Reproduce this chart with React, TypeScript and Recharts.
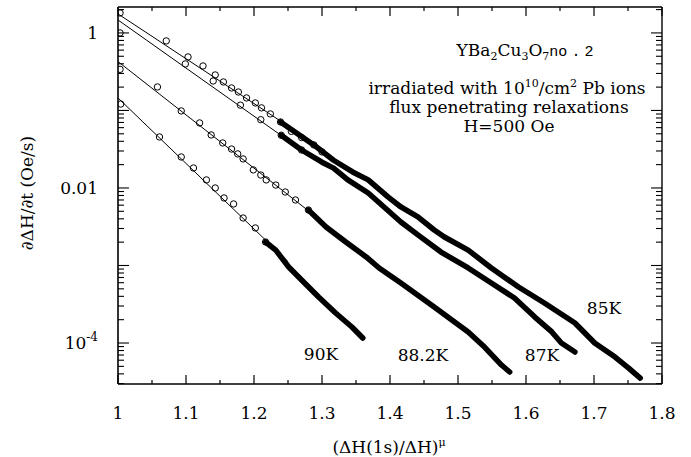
import { ComposedChart, Line, Scatter, XAxis, YAxis } from 'recharts';

// sparse open-circle readings, [x, dH/dt]
const circles85: [number, number][] = [
  [1.003, 1.81], [1.071, 0.789], [1.103, 0.49], [1.125, 0.375], [1.143, 0.287], [1.155, 0.233],
  [1.167, 0.195], [1.177, 0.173], [1.189, 0.145], [1.202, 0.125], [1.211, 0.108], [1.224, 0.0902],
  [1.239, 0.0711], [1.255, 0.0537], [1.27, 0.0447], [1.288, 0.0359], [1.30, 0.0292],
];
const circles87: [number, number][] = [
  [1.003, 1.0], [1.099, 0.398], [1.14, 0.24], [1.18, 0.117], [1.21, 0.076], [1.24, 0.0479], [1.27, 0.0309],
];
const circles882: [number, number][] = [
  [1.003, 0.339], [1.058, 0.201], [1.093, 0.0986], [1.12, 0.069], [1.137, 0.0483], [1.154, 0.0381],
  [1.167, 0.0318], [1.176, 0.0275], [1.184, 0.0237], [1.199, 0.0171], [1.21, 0.0147], [1.218, 0.0127],
  [1.232, 0.0109], [1.246, 0.00887], [1.261, 0.007], [1.28, 0.0052],
];
const circles90: [number, number][] = [
  [1.004, 0.121], [1.061, 0.0455], [1.093, 0.0251], [1.111, 0.0181], [1.13, 0.0127], [1.143, 0.01],
  [1.156, 0.00743], [1.17, 0.00622], [1.184, 0.0041], [1.202, 0.00305], [1.217, 0.00201],
];

// dense part of each relaxation (drawn as a thick trace)
const trail85: [number, number][] = [
  [1.239, 0.0711], [1.288, 0.0359], [1.317, 0.0228], [1.345, 0.0161], [1.368, 0.0127], [1.397, 0.00766],
  [1.416, 0.00569], [1.441, 0.00423], [1.465, 0.00287], [1.48, 0.00233], [1.515, 0.00158], [1.549, 0.000929],
  [1.589, 0.000528], [1.627, 0.000328], [1.672, 0.000181], [1.701, 0.0001], [1.731, 6.59e-5],
  [1.751, 4.75e-5], [1.768, 3.53e-5],
];
const trail87: [number, number][] = [
  [1.24, 0.0479], [1.27, 0.0309], [1.30, 0.0215], [1.317, 0.018], [1.338, 0.0127], [1.368, 0.00861],
  [1.416, 0.00364], [1.441, 0.00248], [1.475, 0.00149], [1.515, 0.000929], [1.549, 0.000594],
  [1.583, 0.000381], [1.613, 0.000216], [1.638, 0.000139], [1.652, 0.0001], [1.672, 7.66e-5],
];
const trail882: [number, number][] = [
  [1.28, 0.0052], [1.306, 0.00314], [1.335, 0.00201], [1.365, 0.00129], [1.384, 0.000929], [1.416, 0.000594],
  [1.465, 0.000292], [1.515, 0.000139], [1.539, 8.87e-5], [1.564, 5.2e-5], [1.576, 4.23e-5],
];
const trail90: [number, number][] = [
  [1.217, 0.00201], [1.232, 0.00158], [1.251, 0.000957], [1.27, 0.00065], [1.295, 0.000393],
  [1.32, 0.000244], [1.344, 0.000161], [1.36, 0.000116],
];

// straight fits on the semilog plot
const fit85: [number, number][] = [[1, 1.76], [1.3, 0.0324]];
const fit87: [number, number][] = [[1, 1.47], [1.3, 0.0202]];
const fit882: [number, number][] = [[1, 0.427], [1.4, 0.00076]];
const fit90: [number, number][] = [[1, 0.145], [1.25, 0.00112]];

const xMajor = [1, 1.1, 1.2, 1.3, 1.4, 1.5, 1.6, 1.7, 1.8];
const xMinor = [1.05, 1.15, 1.25, 1.35, 1.45, 1.55, 1.65, 1.75];
const yDecades = [1e-5, 1e-4, 1e-3, 1e-2, 1e-1, 1];
const yMinorMult = [2, 3, 4, 5, 6, 7, 8, 9];
const yLabels: Record<string, string> = { '0': '1', '-2': '0.01', '-4': '10' };

const X_DOMAIN = [1, 1.8];
const Y_DOMAIN = [2.96e-5, 2.16];

const pts = (arr: [number, number][]) => arr.map(([x, y]) => ({ x, y }));

const xTicks = [...xMajor, ...xMinor].sort((a, b) => a - b);
const yTicks = yDecades
  .flatMap(d => [d, ...yMinorMult.map(m => d * m)])
  .filter(v => v >= Y_DOMAIN[0] && v <= Y_DOMAIN[1]);

const isMajorX = (v: number) => Math.abs(v * 10 - Math.round(v * 10)) < 1e-6;
const decadeOf = (v: number) => {
  const l = Math.log10(v);
  return Math.abs(l - Math.round(l)) < 1e-6 ? Math.round(l) : null;
};

const FONT = 'DejaVu Serif';
const ink = '#000';

function BottomTick(props: any) {
  const { x, y, payload } = props;
  const major = isMajorX(payload.value);
  return (
    <g>
      <line x1={x} x2={x} y1={y} y2={y - (major ? 9 : 4)} stroke={ink} strokeWidth={1.2} />
      {major && (
        <text x={x} y={y + 35} textAnchor="middle" fontFamily={FONT} fontSize={17} fill={ink}>
          {Math.abs(payload.value - 1) < 1e-6 ? '1' : payload.value.toFixed(1)}
        </text>
      )}
    </g>
  );
}

function TopTick(props: any) {
  const { x, y, payload } = props;
  const major = isMajorX(payload.value);
  return <line x1={x} x2={x} y1={y} y2={y + (major ? 9 : 4)} stroke={ink} strokeWidth={1.2} />;
}

function LeftTick(props: any) {
  const { x, y, payload } = props;
  const dec = decadeOf(payload.value);
  const label = dec !== null ? yLabels[String(dec)] : undefined;
  return (
    <g>
      <line x1={x} x2={x + (dec !== null ? 11 : 6)} y1={y} y2={y} stroke={ink} strokeWidth={1.1} />
      {label && (
        <text x={x - 20} y={y} dy="0.35em" textAnchor="end" fontFamily={FONT} fontSize={17} fill={ink}>
          {label}
          {dec === -4 && (
            <tspan dy={-8} fontSize={12}>
              -4
            </tspan>
          )}
        </text>
      )}
    </g>
  );
}

function RightTick(props: any) {
  const { x, y, payload } = props;
  const dec = decadeOf(payload.value);
  return <line x1={x} x2={x - (dec !== null ? 11 : 6)} y1={y} y2={y} stroke={ink} strokeWidth={1.1} />;
}

const ring = (props: any) => (
  <circle cx={props.cx} cy={props.cy} r={3.2} fill="none" stroke={ink} strokeWidth={1} />
);

const series = [
  { fit: fit85, circ: circles85, trail: trail85 },
  { fit: fit87, circ: circles87, trail: trail87 },
  { fit: fit882, circ: circles882, trail: trail882 },
  { fit: fit90, circ: circles90, trail: trail90 },
];

const abs = (left: number, top: number, extra: React.CSSProperties = {}): React.CSSProperties => ({
  position: 'absolute',
  left,
  top,
  transform: 'translate(-50%, -50%)',
  whiteSpace: 'nowrap',
  fontFamily: FONT,
  fontSize: 17,
  color: ink,
  lineHeight: 1,
  ...extra,
});

const sub = { fontSize: 11, lineHeight: 0 };

export default function App() {
  return (
    <div style={{ position: 'absolute', left: 0, top: 0, width: 691, height: 457, background: '#fff' }}>
      <ComposedChart width={691} height={457} margin={{ top: 0, right: 0, bottom: 0, left: 0 }}>
        <XAxis
          dataKey="x"
          type="number"
          domain={X_DOMAIN}
          allowDataOverflow
          ticks={xTicks}
          interval={0}
          height={73}
          tickSize={0}
          tickMargin={0}
          tick={<BottomTick />}
          axisLine={{ stroke: ink, strokeWidth: 1.6 }}
        />
        <XAxis
          xAxisId="top"
          orientation="top"
          dataKey="x"
          type="number"
          domain={X_DOMAIN}
          allowDataOverflow
          ticks={xTicks}
          interval={0}
          height={7}
          tickSize={0}
          tickMargin={0}
          tick={<TopTick />}
          axisLine={{ stroke: ink, strokeWidth: 1.4 }}
        />
        <YAxis
          dataKey="y"
          type="number"
          scale="log"
          domain={Y_DOMAIN}
          allowDataOverflow
          ticks={yTicks}
          interval={0}
          width={118}
          tickSize={0}
          tickMargin={0}
          tick={<LeftTick />}
          axisLine={{ stroke: ink, strokeWidth: 1.6 }}
        />
        <YAxis
          yAxisId="right"
          orientation="right"
          dataKey="y"
          type="number"
          scale="log"
          domain={Y_DOMAIN}
          allowDataOverflow
          ticks={yTicks}
          interval={0}
          width={29}
          tickSize={0}
          tickMargin={0}
          tick={<RightTick />}
          axisLine={{ stroke: ink, strokeWidth: 1.4 }}
        />
        {series.map((s, i) => (
          <Line
            key={`fit${i}`}
            data={pts(s.fit)}
            dataKey="y"
            stroke={ink}
            strokeWidth={1}
            dot={false}
            activeDot={false}
            isAnimationActive={false}
          />
        ))}
        {series.map((s, i) => (
          <Scatter key={`c${i}`} data={pts(s.circ)} dataKey="y" shape={ring} isAnimationActive={false} />
        ))}
        {series.map((s, i) => (
          <Line
            key={`t${i}`}
            data={pts(s.trail)}
            dataKey="y"
            stroke={ink}
            strokeWidth={5.5}
            strokeLinecap="round"
            strokeLinejoin="round"
            dot={false}
            activeDot={false}
            isAnimationActive={false}
          />
        ))}
      </ComposedChart>

      <div style={abs(27, 193, { transform: 'translate(-50%, -50%) rotate(-90deg)' })}>∂ΔH/∂t (Oe/s)</div>
      <div style={abs(389, 447)}>
        (ΔH(1s)/ΔH)<sup style={sub}>μ</sup>
      </div>

      <div style={abs(525, 51)}>
        YBa<sub style={sub}>2</sub>Cu<sub style={sub}>3</sub>O<sub style={sub}>7</sub>
        <span style={{ fontFamily: 'Liberation Mono', fontSize: 15 }}>
          no<span style={{ margin: '0 4px' }}>.</span>2
        </span>
      </div>
      <div style={abs(507, 88)}>
        irradiated with 10<sup style={sub}>10</sup>/cm<sup style={sub}>2</sup> Pb ions
      </div>
      <div style={abs(509, 107)}>flux penetrating relaxations</div>
      <div style={abs(509, 126)}>H=500 Oe</div>

      <div style={abs(604, 308)}>85K</div>
      <div style={abs(542, 355)}>87K</div>
      <div style={abs(423, 355)}>88.2K</div>
      <div style={abs(321, 354)}>90K</div>
    </div>
  );
}
